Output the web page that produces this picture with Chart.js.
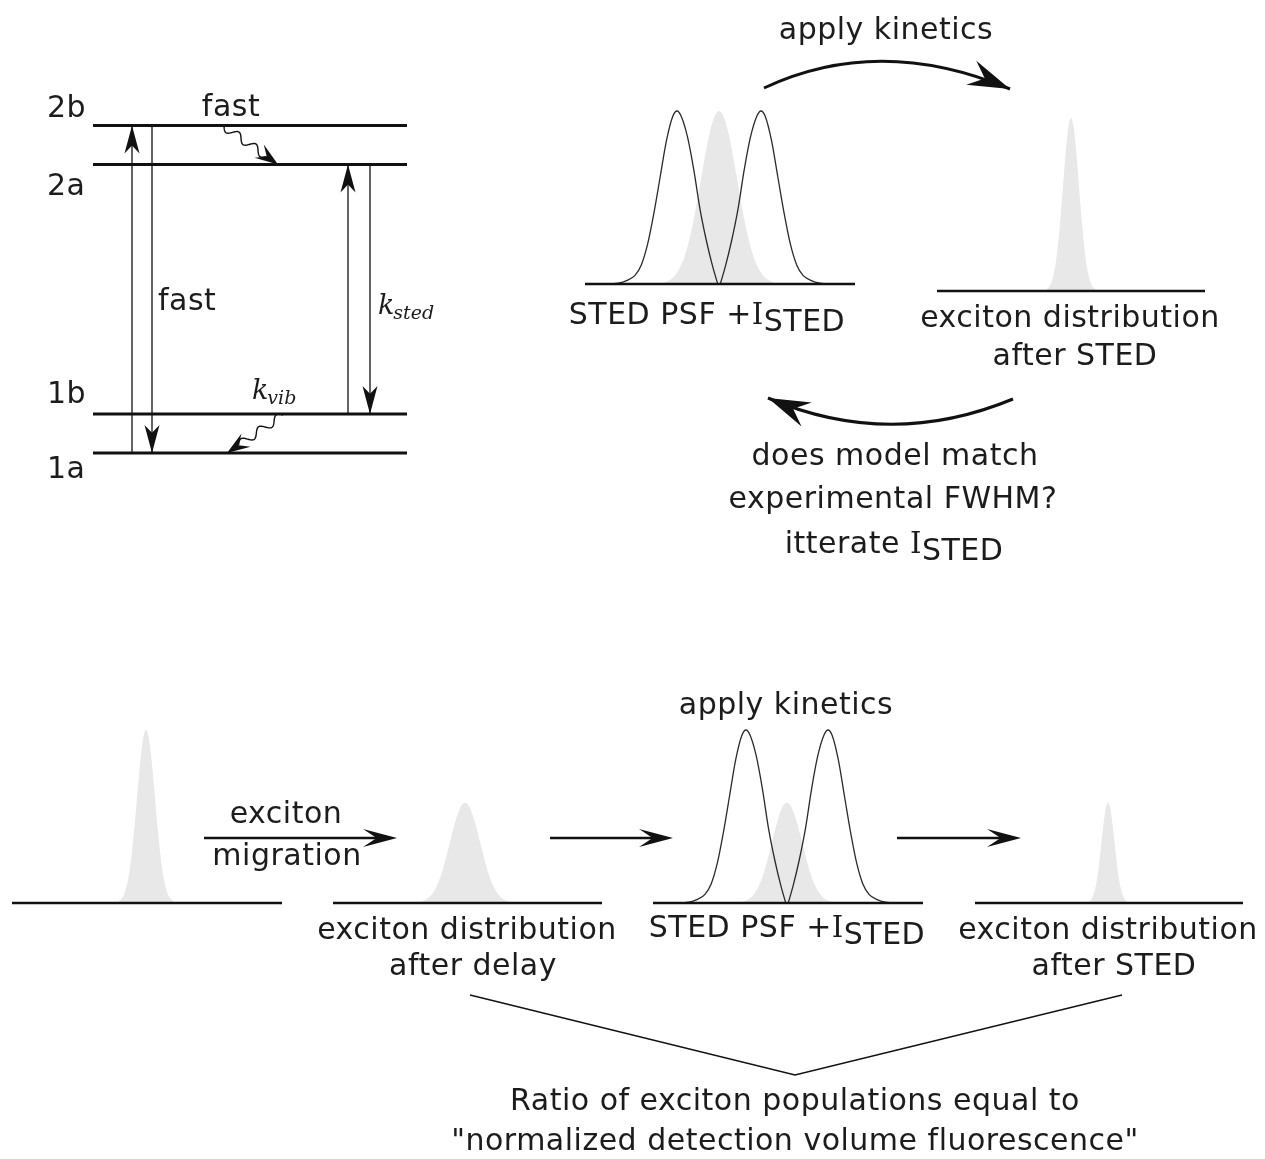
<!DOCTYPE html>
<html>
<head>
<meta charset="utf-8">
<title>STED exciton model</title>
<script src="https://cdn.jsdelivr.net/npm/chart.js@4.4.1/dist/chart.umd.min.js"></script>
<style>
  html, body { margin: 0; padding: 0; background: #ffffff; }
  #wrap { width: 1265px; height: 1159px; }
</style>
</head>
<body>
<div id="wrap"><canvas id="scheme" width="1265" height="1159"></canvas></div>
<script>
// ---- data ----

// energy levels (arbitrary units), lowest first
const levelNames = ["1a", "1b", "2a", "2b"];
const levelEnergy = [0, 1, 7.4, 8.4];

// vertical transitions: excitation 1a->2b, fast decay 2b->1a, re-excitation 1b->2a, k_sted 2a->1b
const transitionFrom = [0, 3, 1, 2];
const transitionTo = [3, 0, 2, 1];

// vibrational relaxation (wavy arrows): 2b->2a (fast), 1b->1a (k_vib)
const relaxFrom = [3, 1];
const relaxTo = [2, 0];

// normalised gaussian, sampled every quarter sigma
const gaussSigma = [-3, -2.75, -2.5, -2.25, -2, -1.75, -1.5, -1.25, -1, -0.75, -0.5, -0.25, 0,
                    0.25, 0.5, 0.75, 1, 1.25, 1.5, 1.75, 2, 2.25, 2.5, 2.75, 3];
const gaussValue = [0.011, 0.023, 0.044, 0.080, 0.135, 0.216, 0.325, 0.458, 0.607, 0.755, 0.882, 0.969, 1,
                    0.969, 0.882, 0.755, 0.607, 0.458, 0.325, 0.216, 0.135, 0.080, 0.044, 0.023, 0.011];

// one lobe of the STED doughnut, offset from the lobe maximum in half-spacings
// (negative = outer flank, positive = towards the zero in the middle)
const lobeOffset = [-1.6, -1.4, -1.2, -1.0, -0.85, -0.7, -0.55, -0.4, -0.25, -0.1, 0,
                    0.1, 0.25, 0.4, 0.55, 0.7, 0.85, 0.97];
const lobeValue = [0, 0.005, 0.02, 0.05, 0.11, 0.23, 0.41, 0.62, 0.83, 0.97, 1,
                   0.97, 0.85, 0.66, 0.43, 0.25, 0.1, 0];

// fitting loop: exciton distribution under the PSF, and after STED
const fitPeak = [1, 1];
const fitWidth = [18, 8];

// measurement chain: initial, after delay, under STED PSF, after STED
const stagePeak = [1, 0.58, 0.58, 0.58];
const stageWidth = [9, 15, 15, 6.5];

// STED doughnut (fit loop, measurement chain): lobe height and half spacing
const psfPeak = [1, 1];
const psfHalfSpacing = [42, 41];

// ---- layout ----
const W = 1265, H = 1159;
const INK = "#111111";
const TEXT = "#1c1c1c";
const GREY = "#e8e8e8";
const FONT = '30px "DejaVu Sans"';
const SERIF_I = '29px "DejaVu Serif"';
const PEAK_PX = 173;

const levelBase = 453, levelStep = 39, levelLeft = 93, levelRight = 407;
const transitionX = [132, 152, 348, 370];
const levelY = levelEnergy.map(e => levelBase - e * levelStep);

const fitPanels = [
    { left: 585, right: 855, base: 284, cx: 719 },
    { left: 937, right: 1205, base: 291, cx: 1071 }
];
const stagePanels = [
    { left: 12, right: 282, base: 903, cx: 146 },
    { left: 333, right: 602, base: 903, cx: 465 },
    { left: 653, right: 923, base: 903, cx: 787 },
    { left: 975, right: 1243, base: 903, cx: 1108 }
];

// ---- datasets ----
const datasets = [];

function addLine(points, width, order) {
    datasets.push({ data: points, borderColor: INK, borderWidth: width, order: order, fill: false });
}

function gaussPoints(panel, peak, sigma) {
    return gaussSigma.map((s, i) => ({ x: panel.cx + s * sigma, y: panel.base - gaussValue[i] * peak * PEAK_PX }));
}

function lobePoints(panel, peak, half, side) {
    const pts = lobeOffset.map((o, i) => ({
        x: panel.cx + side * (half - o * half),
        y: panel.base - lobeValue[i] * peak * PEAK_PX
    }));
    return side > 0 ? pts.reverse() : pts;
}

function addExcitons(panel, peak, sigma) {
    datasets.push({
        data: gaussPoints(panel, peak, sigma),
        borderColor: "rgba(0,0,0,0)",
        borderWidth: 0,
        backgroundColor: GREY,
        fill: { value: panel.base },
        cubicInterpolationMode: "monotone",
        order: 3
    });
}

function addDoughnut(panel, peak, half) {
    [-1, 1].forEach(side => {
        datasets.push({
            data: lobePoints(panel, peak, half, side),
            borderColor: "#2a2a2a",
            borderWidth: 1.3,
            fill: false,
            cubicInterpolationMode: "monotone",
            order: 2
        });
    });
}

// fitting loop panels
addExcitons(fitPanels[0], fitPeak[0], fitWidth[0]);
addDoughnut(fitPanels[0], psfPeak[0], psfHalfSpacing[0]);
addExcitons(fitPanels[1], fitPeak[1], fitWidth[1]);

// measurement chain panels
stagePanels.forEach((p, i) => addExcitons(p, stagePeak[i], stageWidth[i]));
addDoughnut(stagePanels[2], psfPeak[1], psfHalfSpacing[1]);

// baselines
fitPanels.concat(stagePanels).forEach(p => addLine([{ x: p.left, y: p.base }, { x: p.right, y: p.base }], 2.6, 1));

// energy levels
levelY.forEach(y => addLine([{ x: levelLeft, y: y }, { x: levelRight, y: y }], 3, 1));

// transition shafts
transitionFrom.forEach((f, i) => {
    addLine([{ x: transitionX[i], y: levelY[f] }, { x: transitionX[i], y: levelY[transitionTo[i]] }], 1.3, 1);
});

// straight arrows of the measurement chain
const chainArrows = [[204, 397], [550, 673], [897, 1021]];
const chainArrowY = 838;
chainArrows.forEach(a => addLine([{ x: a[0], y: chainArrowY }, { x: a[1] - 20, y: chainArrowY }], 2.6, 1));

// bracket joining the two populations
addLine([{ x: 470, y: 995 }, { x: 795, y: 1075 }, { x: 1122, y: 995 }], 1.4, 1);

// ---- drawing helpers ----
function arrowHead(ctx, x, y, angle, len, half, notch) {
    ctx.save();
    ctx.translate(x, y);
    ctx.rotate(angle);
    ctx.beginPath();
    ctx.moveTo(0, 0);
    ctx.lineTo(-len, -half);
    ctx.lineTo(-len * notch, 0);
    ctx.lineTo(-len, half);
    ctx.closePath();
    ctx.fill();
    ctx.restore();
}

function wavyArrow(ctx, x0, y0, x1, y1) {
    const dx = x1 - x0, dy = y1 - y0;
    const len = Math.hypot(dx, dy);
    const ux = dx / len, uy = dy / len;
    const body = len - 14;
    ctx.beginPath();
    for (let s = 0; s <= body; s += 0.5) {
        const off = 4 * Math.sin(s / body * 2.5 * 2 * Math.PI);
        const px = x0 + ux * s - uy * off;
        const py = y0 + uy * s + ux * off;
        if (s === 0) ctx.moveTo(px, py); else ctx.lineTo(px, py);
    }
    ctx.lineWidth = 1.4;
    ctx.stroke();
    arrowHead(ctx, x1, y1, Math.atan2(dy, dx), 23, 8, 0.6);
}

function curvedArrow(ctx, p0, c, p2, len, half) {
    ctx.beginPath();
    ctx.moveTo(p0[0], p0[1]);
    ctx.quadraticCurveTo(c[0], c[1], p2[0], p2[1]);
    ctx.lineWidth = 3;
    ctx.stroke();
    arrowHead(ctx, p2[0], p2[1], Math.atan2(p2[1] - c[1], p2[0] - c[0]), len, half, 0.65);
}

function text(ctx, str, x, y, align) {
    ctx.font = FONT;
    ctx.textAlign = align || "center";
    ctx.fillText(str, x, y);
}

// centred run of pieces, each with its own font and vertical drop
function textRuns(ctx, runs, cx, y) {
    ctx.textAlign = "left";
    const widths = runs.map(r => { ctx.font = r.font; return ctx.measureText(r.t).width; });
    let x = cx - widths.reduce((a, b) => a + b, 0) / 2;
    runs.forEach((r, i) => {
        ctx.font = r.font;
        ctx.fillText(r.t, x, y + (r.dy || 0));
        x += widths[i];
    });
}

function withIsted(prefix) {
    return [{ t: prefix, font: FONT }, { t: "I", font: SERIF_I }, { t: "STED", font: FONT, dy: 7 }];
}

function rate(ctx, sym, sub, x, y) {
    ctx.textAlign = "left";
    ctx.font = 'italic 27px "DejaVu Serif"';
    ctx.fillText(sym, x, y);
    const w = ctx.measureText(sym).width;
    ctx.font = 'italic 19px "DejaVu Serif"';
    ctx.fillText(sub, x + w - 1, y + 5);
}

const annotations = {
    id: "annotations",
    afterDatasetsDraw(chart) {
        const ctx = chart.ctx;
        const sx = v => chart.scales.x.getPixelForValue(v);
        const sy = v => chart.scales.y.getPixelForValue(v);
        ctx.save();
        ctx.fillStyle = INK;
        ctx.strokeStyle = INK;

        // heads of the vertical transitions
        transitionFrom.forEach((f, i) => {
            const up = levelEnergy[transitionTo[i]] > levelEnergy[f];
            arrowHead(ctx, sx(transitionX[i]), sy(levelY[transitionTo[i]]), up ? -Math.PI / 2 : Math.PI / 2, 28, 7.5, 0.72);
        });

        // vibrational relaxation
        wavyArrow(ctx, sx(224), sy(levelY[relaxFrom[0]] + 1), sx(278), sy(levelY[relaxTo[0]]));
        wavyArrow(ctx, sx(283), sy(levelY[relaxFrom[1]] + 1), sx(227), sy(levelY[relaxTo[1]]));

        // heads of the chain arrows
        chainArrows.forEach(a => arrowHead(ctx, sx(a[1]), sy(chainArrowY), 0, 34, 9, 0.6));

        // fitting loop arrows
        curvedArrow(ctx, [sx(764), sy(88)], [sx(879), sy(34)], [sx(1010), sy(89)], 42, 13);
        curvedArrow(ctx, [sx(1013), sy(399)], [sx(890), sy(450)], [sx(768), sy(398)], 42, 13);

        // labels
        ctx.fillStyle = TEXT;
        ctx.textBaseline = "middle";
        ctx.letterSpacing = "0.5px";
        const levelLabelY = [470, 395, 187, 109];
        levelNames.forEach((n, i) => text(ctx, n, 47, levelLabelY[i], "left"));
        text(ctx, "fast", 231, 108);
        text(ctx, "fast", 158, 302, "left");

        text(ctx, "apply kinetics", 886, 31);
        textRuns(ctx, withIsted("STED PSF +"), 707, 316);
        text(ctx, "exciton distribution", 1070, 319);
        text(ctx, "after STED", 1075, 357);
        text(ctx, "does model match", 895, 457);
        text(ctx, "experimental FWHM?", 893, 500);
        textRuns(ctx, withIsted("itterate "), 894, 545);

        text(ctx, "exciton", 286, 815);
        text(ctx, "migration", 287, 857);
        text(ctx, "apply kinetics", 786, 706);
        text(ctx, "exciton distribution", 467, 931);
        text(ctx, "after delay", 473, 967);
        textRuns(ctx, withIsted("STED PSF +"), 787, 929);
        text(ctx, "exciton distribution", 1108, 931);
        text(ctx, "after STED", 1114, 967);
        text(ctx, "Ratio of exciton populations equal to", 795, 1102);
        text(ctx, "\"normalized detection volume fluorescence\"", 795, 1142);

        ctx.letterSpacing = "0px";
        ctx.textBaseline = "alphabetic";
        rate(ctx, "k", "sted", 378, 314);
        rate(ctx, "k", "vib", 252, 399);

        ctx.restore();
    }
};

new Chart(document.getElementById("scheme"), {
    type: "line",
    data: { datasets: datasets },
    options: {
        responsive: false,
        maintainAspectRatio: false,
        animation: false,
        events: [],
        layout: { padding: 0 },
        elements: { point: { radius: 0 } },
        scales: {
            x: { type: "linear", min: 0, max: W, display: false },
            y: { type: "linear", min: 0, max: H, reverse: true, display: false }
        },
        plugins: {
            legend: { display: false },
            tooltip: { enabled: false }
        }
    },
    plugins: [annotations]
});
</script>
</body>
</html>
